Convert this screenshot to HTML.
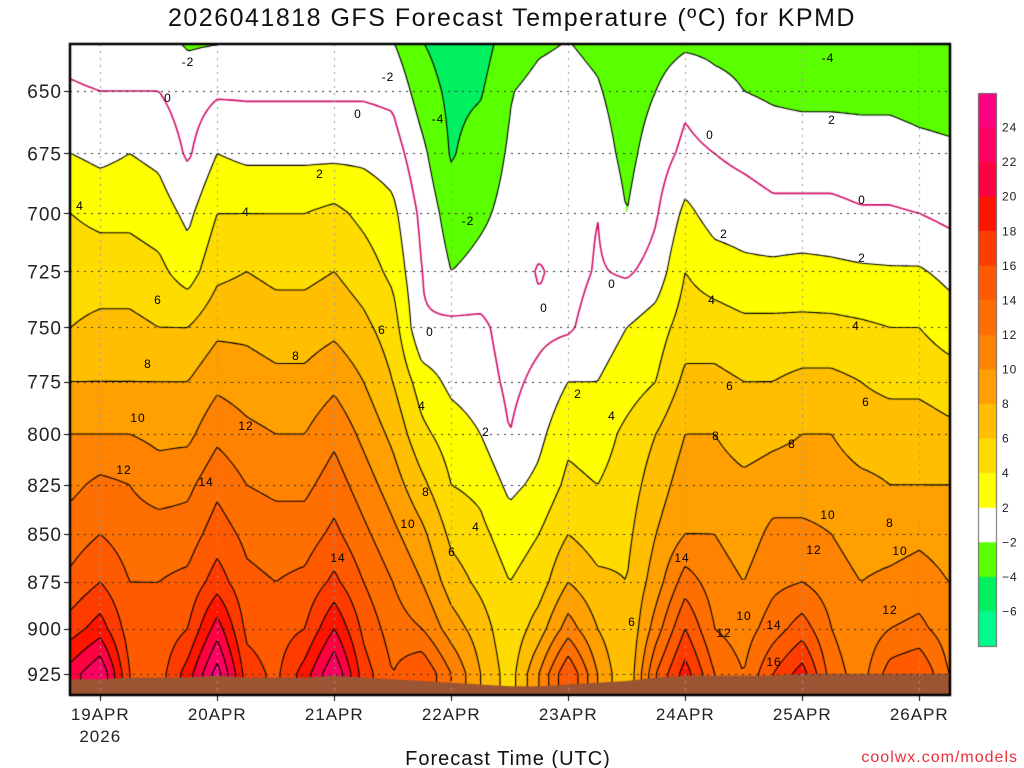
<!DOCTYPE html>
<html><head><meta charset="utf-8">
<style>
body{margin:0;background:#fff;width:1024px;height:768px;overflow:hidden;position:relative;font-family:"Liberation Sans","DejaVu Sans",sans-serif;}
#title{position:absolute;left:0;width:1024px;top:4px;text-align:center;font-size:25px;letter-spacing:1.5px;color:#111;}
canvas{position:absolute;left:0;top:0;}
</style></head><body>
<div id="title">2026041818 GFS Forecast Temperature (ºC) for KPMD</div>
<canvas id="cv" width="1024" height="768"></canvas>
<svg id="ov" width="1024" height="768" style="position:absolute;left:0;top:0"></svg>
<script>
const levels=[925,900,875,850,825,800,775,750,725,700,675,650,630];
const dayLabels=["19APR","20APR","21APR","22APR","23APR","24APR","25APR","26APR"];
const tickPressures=[650,675,700,725,750,775,800,825,850,875,900,925];
const bandEdges=[-6,-4,-2,2,4,6,8,10,12,14,16,18,20,22,24];
const t925=[21,24,16,15,19,25,17,15.5,19,24,17,14,16,12,8,5,10,16,10,6,14,19,14,12,16,19,13,11,15,16,12];
const t900=[17,19,15,14.5,16,21,15.5,15,16,20,15.5,13,12,9,7,4.5,7,11,8,6,11,16,12,11,13,15,12,10.5,12,12.5,11];
const t875=[14.5,16,14,14,14.5,17,14.5,14,14.5,16.5,14,12,10,7,5.5,4,5,8,6.5,6,9,13,11,10,11.5,12,11,10,10.5,11,10];
const t850=[13,14,13,13,13,15,13.5,13,13,14.5,12.5,10.5,8.5,5.5,4.5,3,4,6,5,5.5,8,10,10,9,10.5,10.5,10,9,9,9.5,9];
const t825=[11.5,12.5,12,11,11.5,13.5,12,11.5,11.5,13,11,9,6.5,4,3.5,1.5,2.5,4.5,4,5,7,9,9,8.5,9,9,9,8.5,8,8,8];
const t800=[10,10,10,9.5,9.5,11.5,10.5,10,10,11.5,9.5,7.5,4.5,3,2,0,1.5,3.5,3,4.5,6,8,8,7,7.5,8,8,7,7,7,6.5];
const t775=[8,8,8,8,8,9.5,9,8.5,8.5,9.5,8,6,3,1.5,1,-0.5,0.5,2,2,3,4,6.5,6.5,6,6,6.5,6.5,6,5.5,5.5,5];
const t750=[6,6.5,6.5,6,6,7.5,7.5,7,7,7.5,6.5,5,0.2,0.5,0.5,-1,-0.5,-0.3,1,2,3,5,5,4.5,4.5,4.5,4.5,4.3,4,4,3];
const t725=[5,5,5,4.5,3,5.5,6,5.5,5.5,6,5,3.5,0,-2,-1.5,-1.2,0.2,-0.8,0.2,-0.3,0.8,4,3,2.5,2.5,2.7,2.5,2.3,2.2,2.2,1.5];
const t700=[4,3.5,3.5,3,1.5,4,4,4,4,4.5,3.5,2.5,-0.5,-3,-2.3,-1.5,-1,-1,0,-2,-0.2,2.5,1.2,1,0.5,0.5,0.5,0.2,0.2,0,-0.5];
const t675=[2,1.5,2,1.5,-0.3,2,1.5,1.5,1.5,1.5,1.5,1,-1.5,-4.2,-3,-1.8,-1.2,-1.2,-1,-2.6,-1,0.5,0,-0.5,-1,-1,-1,-1.2,-1.2,-1.5,-1.7];
const t650=[0.3,0,0,0,-1,-0.3,-0.3,-0.3,-0.3,-0.3,-0.3,-0.5,-3,-4.5,-4.2,-2.1,-1.5,-1.3,-1.8,-3,-2,-0.5,-1.5,-2,-2.3,-2.5,-2.5,-2.5,-2.5,-2.7,-2.8];
const t630=[-1,-1.5,-1.5,-1.5,-2.3,-2.2,-1.5,-1.5,-1.5,-1.5,-1.5,-2,-4,-5,-5,-3,-2.3,-2,-2.5,-3.5,-3,-2.5,-2.5,-2.5,-3.5,-4,-4,-4,-4,-4,-4];
const surfP=[928,928,927,927,927,926,927,927,927,926,927,928,929,930,931,932,932,931,930,929,927,926,926,926,926,925,925,925,925,925,925];
const rows=[t925,t900,t875,t850,t825,t800,t775,t750,t725,t700,t675,t650,t630];
const colors=["#00fa8c","#00f060","#5aff00","#ffffff","#ffff00","#ffdc00","#ffbe00","#ffa000","#ff8200","#ff6e00","#ff5a00","#ff3c00","#ff1400","#ff0040","#ff0060","#ff0082"];

const X0=70,X1=950,Y0=44,Y1=695;
function xOf(i){return 71+i*29.25;}
function yOf(p){return 91+1652*Math.log(p/650);}
function pOf(y){return 650*Math.exp((y-91)/1652);}
function temp(x,y){
  let ti=(x-71)/29.25; ti=Math.max(0,Math.min(t925.length-1.0001,ti));
  const i0=Math.floor(ti), f=ti-i0;
  const lp=Math.log(pOf(y));
  let k=0, g=0;
  if(lp>=Math.log(levels[0])){k=0;g=0;}
  else if(lp<=Math.log(levels[levels.length-1])){k=levels.length-2;g=1;}
  else{for(k=0;k<levels.length-1;k++){const a=Math.log(levels[k]),b=Math.log(levels[k+1]);if(lp<=a&&lp>=b){g=(a-lp)/(a-b);break;}}}
  const v=(r,i)=>rows[r][Math.min(i,t925.length-1)];
  const a=v(k,i0)*(1-f)+v(k,i0+1)*f, b=v(k+1,i0)*(1-f)+v(k+1,i0+1)*f;
  return a*(1-g)+b*g;
}
function band(t){let i=0;while(i<bandEdges.length&&t>=bandEdges[i])i++;return i;}
function hex(c){return [parseInt(c.substr(1,2),16),parseInt(c.substr(3,2),16),parseInt(c.substr(5,2),16)];}
const rgb=colors.map(hex);
const cv=document.getElementById('cv'),ctx=cv.getContext('2d');
const W=X1-X0,H=Y1-Y0;
const img=ctx.createImageData(W,H);
for(let y=0;y<H;y++)for(let x=0;x<W;x++){const c=rgb[band(temp(x+X0+0.5,y+Y0+0.5))];const o=(y*W+x)*4;img.data[o]=c[0];img.data[o+1]=c[1];img.data[o+2]=c[2];img.data[o+3]=255;}
ctx.putImageData(img,X0,Y0);
const S=3,nx=Math.ceil(W/S)+1,ny=Math.ceil(H/S)+1;const G=[];
for(let j=0;j<ny;j++){G.push([]);for(let i=0;i<nx;i++)G[j].push(temp(X0+i*S,Y0+j*S));}
const clev=[-6,-4,-2,0,2,4,6,8,10,12,14,16,18,20,22,24];
ctx.save();ctx.beginPath();ctx.rect(X0,Y0,W,H);ctx.clip();
clev.forEach(L=>{
  ctx.beginPath();ctx.strokeStyle=L===0?"#d0106a":"#000";ctx.lineWidth=L===0?1.6:1.1;
  for(let j=0;j<ny-1;j++)for(let i=0;i<nx-1;i++){
    const a=G[j][i],b=G[j][i+1],c=G[j+1][i+1],d=G[j+1][i];
    const pts=[];const x=X0+i*S,y=Y0+j*S;
    if((a<L)!==(b<L))pts.push([x+S*(L-a)/(b-a),y]);
    if((b<L)!==(c<L))pts.push([x+S,y+S*(L-b)/(c-b)]);
    if((d<L)!==(c<L))pts.push([x+S*(L-d)/(c-d),y+S]);
    if((a<L)!==(d<L))pts.push([x,y+S*(L-a)/(d-a)]);
    for(let q=0;q+1<pts.length;q+=2){ctx.moveTo(pts[q][0],pts[q][1]);ctx.lineTo(pts[q+1][0],pts[q+1][1]);}
  }
  ctx.stroke();
});
ctx.beginPath();ctx.fillStyle="#9c5533";ctx.moveTo(X0,Y1);
surfP.forEach((p,i)=>ctx.lineTo(Math.max(X0,Math.min(X1,xOf(i))),yOf(p)));
ctx.lineTo(X1,Y1);ctx.closePath();ctx.fill();
ctx.restore();
ctx.setLineDash([2,5]);ctx.lineWidth=1;
ctx.strokeStyle="#333";
tickPressures.forEach(p=>{const y=Math.round(yOf(p))+0.5;ctx.beginPath();ctx.moveTo(X0,y);ctx.lineTo(X1,y);ctx.stroke();});
ctx.strokeStyle="#999";
dayLabels.forEach((d,i)=>{const x=Math.round(xOf(1+4*i))+0.5;ctx.beginPath();ctx.moveTo(x,Y0);ctx.lineTo(x,Y1);ctx.stroke();});
ctx.setLineDash([]);
ctx.strokeStyle="#000";ctx.lineWidth=2.5;ctx.strokeRect(X0,Y0,W,H);
ctx.lineWidth=1;
tickPressures.forEach(p=>{const y=Math.round(yOf(p))+0.5;ctx.beginPath();ctx.moveTo(X0-6,y);ctx.lineTo(X0,y);ctx.stroke();});
dayLabels.forEach((d,i)=>{const x=Math.round(xOf(1+4*i))+0.5;ctx.beginPath();ctx.moveTo(x,Y1);ctx.lineTo(x,Y1+6);ctx.stroke();});
const cbTop=93,cbBot=646,cbX=978,cbW=18,bh=(cbBot-cbTop)/colors.length;
for(let k=0;k<colors.length;k++){ctx.fillStyle=colors[colors.length-1-k];ctx.fillRect(cbX,cbTop+k*bh,cbW,bh+0.5);}
ctx.strokeStyle="#666";ctx.strokeRect(cbX+0.5,cbTop+0.5,cbW,cbBot-cbTop);
const ov=document.getElementById('ov');const NS="http://www.w3.org/2000/svg";
function txt(x,y,s,size,anchor,fill,name){const t=document.createElementNS(NS,'text');t.setAttribute('x',x);t.setAttribute('y',y);t.setAttribute('font-size',size);t.setAttribute('text-anchor',anchor);t.setAttribute('fill',fill||'#222');t.setAttribute('font-family','Liberation Sans, sans-serif');t.setAttribute('letter-spacing','1');t.textContent=s;


ov.appendChild(t);return t;}
tickPressures.forEach(p=>txt(62,yOf(p)+7,String(p),19,'end','#222','y-tick-label'));
dayLabels.forEach((d,i)=>txt(xOf(1+4*i),720,d,17,'middle','#222','x-tick-label'));
txt(xOf(1),742,"2026",17,'middle','#222','x-year-label');
txt(508,765,"Forecast Time (UTC)",20,'middle','#111','x-axis-title');
txt(1018,762,"coolwx.com/models",16,'end','#e8303a','watermark');
[24,22,20,18,16,14,12,10,8,6,4,2,-2,-4,-6].forEach((v,k)=>txt(1002,cbTop+(k+1)*bh+4,String(v).replace('-','−'),12,'start','#222','colorbar-label'));
const cl=[[188,66,"-2"],[168,102,"0"],[388,81,"-2"],[358,118,"0"],[438,123,"-4"],[828,62,"-4"],[832,124,"2"],[710,139,"0"],[862,204,"0"],[468,225,"-2"],[320,178,"2"],[246,216,"4"],[80,210,"4"],[724,238,"2"],[862,262,"2"],[612,288,"0"],[544,312,"0"],[430,336,"0"],[158,304,"6"],[382,334,"6"],[712,304,"4"],[856,330,"4"],[296,360,"8"],[148,368,"8"],[578,398,"2"],[612,420,"4"],[422,410,"4"],[486,436,"2"],[730,390,"6"],[866,406,"6"],[138,422,"10"],[246,430,"12"],[716,440,"8"],[792,448,"8"],[124,474,"12"],[206,486,"14"],[426,496,"8"],[828,519,"10"],[890,527,"8"],[408,528,"10"],[452,556,"6"],[476,531,"4"],[338,562,"14"],[814,554,"12"],[900,555,"10"],[682,562,"14"],[632,626,"6"],[744,620,"10"],[724,637,"12"],[774,629,"14"],[890,614,"12"],[774,666,"16"]];
cl.forEach(c=>txt(c[0],c[1],c[2],12,'middle','#000','contour-label'));
</script>
</body></html>
